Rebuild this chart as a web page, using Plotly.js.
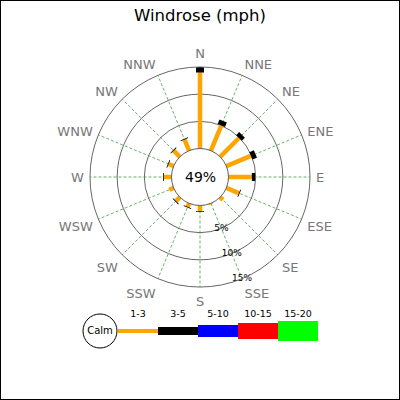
<!DOCTYPE html>
<html>
<head>
<meta charset="utf-8">
<script src="https://cdn.plot.ly/plotly-3.0.1.min.js"></script>
<style>
  body { margin: 0; padding: 0; background: white; }
  #graph { width: 400px; height: 400px; }
</style>
</head>
<body>
<div id="graph"></div>
<script>
// wind directions and frequencies (%) per speed class
var directions = ['N', 'NNE', 'NE', 'ENE', 'E', 'ESE', 'SE', 'SSE',
                  'S', 'SSW', 'SW', 'WSW', 'W', 'WNW', 'NW', 'NNW'];
var speed1to3 = [14.0, 5.0, 4.9, 4.9, 4.3, 2.5, 0.7, 0.2,
                 1.0, 0.7, 1.0, 0.9, 1.4, 1.0, 1.6, 2.2];
var speed3to5 = [1.0, 0.9, 0.8, 0.9, 0.6, 0.15, 0, 0,
                 0.15, 0.15, 0.15, 0, 0.15, 0.15, 0.15, 0.15];
var calmPct = 49;
var ringVals = [5, 10, 15];
var ringLabels = ['5%', '10%', '15%'];
var speedClasses = ['1-3', '3-5', '5-10', '10-15', '15-20'];
var classColors = ['orange', 'black', 'blue', 'red', '#00ff00'];
var classWidths = [4, 8, 12, 16, 20];

var font = 'DejaVu Sans, sans-serif';

main = function() {
    var traces = [];

    // calm circle (inner edge of the rose)
    var calmTheta = directions.concat([directions[0]]);
    traces.push({
        type: 'scatterpolar', mode: 'lines',
        r: calmTheta.map(function() { return 0; }),
        theta: calmTheta,
        line: { color: '#555', width: 1 },
        hoverinfo: 'skip'
    });

    // 1-3 mph bars, 3-5 mph stacked on top
    var r1 = [], t1 = [], r2 = [], t2 = [];
    for (var i = 0; i < directions.length; i++) {
        r1.push(0, speed1to3[i], null);
        t1.push(directions[i], directions[i], null);
        if (speed3to5[i] > 0) {
            r2.push(speed1to3[i], speed1to3[i] + speed3to5[i], null);
            t2.push(directions[i], directions[i], null);
        }
    }
    traces.push({
        type: 'scatterpolar', mode: 'lines', r: r1, theta: t1,
        line: { color: classColors[0], width: 4.5 }, connectgaps: false,
        hoverinfo: 'skip'
    });
    traces.push({
        type: 'scatterpolar', mode: 'lines', r: r2, theta: t2,
        line: { color: classColors[1], width: 8 }, connectgaps: false,
        hoverinfo: 'skip'
    });

    // ring labels
    traces.push({
        type: 'scatterpolar', mode: 'text',
        r: ringVals, theta: ringVals.map(function() { return 'SSE'; }),
        text: ringLabels,
        textfont: { family: font, size: 9, color: 'black' },
        hoverinfo: 'skip'
    });

    // speed legend
    for (var k = 0; k < speedClasses.length; k++) {
        traces.push({
            type: 'scatter', mode: 'lines', xaxis: 'x', yaxis: 'y',
            x: [k, k + 1], y: [0, 0],
            line: { color: classColors[k], width: classWidths[k] },
            hoverinfo: 'skip'
        });
    }
    traces.push({
        type: 'scatter', mode: 'text', xaxis: 'x', yaxis: 'y',
        x: speedClasses.map(function(c, k) { return k + 0.5; }),
        y: speedClasses.map(function() { return 0.52; }),
        text: speedClasses,
        textfont: { family: font, size: 9.5, color: 'black' },
        hoverinfo: 'skip'
    });
    traces.push({
        type: 'scatter', mode: 'markers+text', xaxis: 'x', yaxis: 'y',
        x: [-0.45], y: [0], text: ['Calm'], textposition: 'middle center',
        textfont: { family: font, size: 10, color: 'black' },
        marker: { size: 34, color: 'white', line: { color: 'black', width: 1 } },
        hoverinfo: 'skip'
    });

    var layout = {
        width: 400, height: 400,
        margin: { l: 0, r: 0, t: 0, b: 0 },
        paper_bgcolor: 'white', plot_bgcolor: 'white',
        showlegend: false,
        font: { family: font },
        title: {
            text: 'Windrose (mph)',
            font: { family: font, size: 16.5, color: 'black' },
            x: 0.5, xanchor: 'center', y: 0.962, yanchor: 'middle'
        },
        polar: {
            domain: { x: [0.225, 0.775], y: [0.2825, 0.8325] },
            hole: 0.259,
            bgcolor: 'white',
            radialaxis: {
                range: [0, 15], tickvals: ringVals,
                showticklabels: false, ticks: '', showline: false,
                gridcolor: '#666', gridwidth: 1
            },
            angularaxis: {
                type: 'category', categoryarray: directions,
                rotation: 90, direction: 'clockwise',
                gridcolor: 'rgba(0,128,0,0.6)', griddash: '3px,2px', gridwidth: 1,
                linecolor: '#666', linewidth: 1,
                ticks: 'outside', ticklen: 3, tickcolor: 'rgba(0,0,0,0)',
                tickfont: { family: font, size: 13, color: '#777' }
            }
        },
        xaxis: { domain: [0, 1], range: [-2.95, 7.05], visible: false, fixedrange: true },
        yaxis: { domain: [0.095, 0.25], range: [-1, 1], visible: false, fixedrange: true },
        annotations: [{
            xref: 'paper', yref: 'paper', x: 0.5, y: 0.5575,
            text: calmPct + '%', showarrow: false,
            font: { family: font, size: 14, color: 'black' }
        }],
        shapes: [{
            type: 'rect', xref: 'paper', yref: 'paper',
            x0: 0, x1: 1, y0: 0, y1: 1,
            line: { color: 'black', width: 2 }
        }]
    };

    Plotly.newPlot('graph', traces, layout, { staticPlot: true });
};

main();
</script>
</body>
</html>
